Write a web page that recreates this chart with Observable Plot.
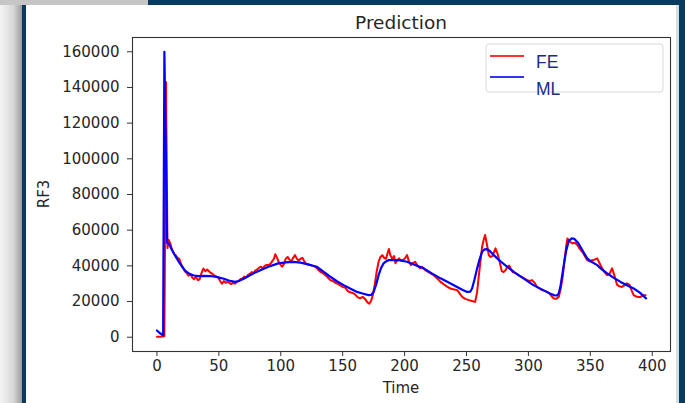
<!DOCTYPE html>
<html>
<head>
<meta charset="utf-8">
<script src="https://cdn.jsdelivr.net/npm/d3@7"></script>
<script src="https://cdn.jsdelivr.net/npm/@observablehq/plot@0.6"></script>
<style>
  html, body { margin: 0; padding: 0; background: #fff; }
  #wrap { position: relative; width: 685px; height: 403px; overflow: hidden; background: #073b5f; }
  #wrap .lstrip { position: absolute; left: 0; top: 0; width: 22px; height: 403px; background: linear-gradient(to right, #f4f4f4, #d8d8d8 60%, #9c9c9c); }
  #wrap .tstrip { position: absolute; left: 0; top: 0; width: 148px; height: 5px; background: #c6c6c6; }
  #wrap .panel { position: absolute; left: 26px; top: 5px; width: 650px; height: 398px; background: #fff; }
  #wrap .rstrip { position: absolute; left: 676px; top: 5px; width: 3px; height: 398px; background: #d6dde2; }
  #chart { position: absolute; left: 0; top: 0; }
</style>
</head>
<body>
<div id="wrap">
  <div class="lstrip"></div>
  <div class="tstrip"></div>
  <div class="panel"></div>
  <div class="rstrip"></div>
  <div id="chart"></div>
</div>
<script>
// ---- data ----
const title = "Prediction";
const xLabel = "Time";
const yLabel = "RF3";
const seriesNames = ["FE", "ML"];
const seriesColors = ["#ff0000", "#0000ff"];
const xTicks = [0, 50, 100, 150, 200, 250, 300, 350, 400];
const yTicks = [0, 20000, 40000, 60000, 80000, 100000, 120000, 140000, 160000];

const feTime = [0,3,6,7.3,8.5,9.5,11,12,13,14,15,16.5,18,19.5,21,22.5,24,25.5,27,28.5,30,31.5,33,34.5,36,37.5,39,40.5,42,43.5,45,46.5,48,49.5,51,52.5,54,55.5,57,58.5,60,61.5,63,64.5,66,67.5,69,70.5,72,73.5,75,76.5,78,79.5,81,82.5,84,85.5,87,88.5,90,91.5,93,94.5,95.5,97,98.5,100,101,102.5,104,105.5,107,108.5,110,111.5,113,114.5,116,117.5,119,120.5,122,124,126,128,130,132,134,136,138,140,142,144,146,148,150,152,154,156,158,160,162,164,166,168,170,171.5,173,174.5,176,177.5,179,180.5,182,183.5,185,186,187.3,188.5,190,191.5,192.6,194,195.5,197,198.5,200,202,203.5,205,206.5,208.5,210.5,212.5,214,216,218,221,224,227,229,231,234,237,240,242.5,244,246.5,249,252,255,257,258.5,260,261.5,262.6,264,265,266.5,268,269.5,271,273.4,275,276.5,278.5,280,281.5,283,284.5,286,287.5,289.5,292,294,296.5,299,301,303,305,307,309,311,313,315,317,319,320.5,322.5,324.5,326,327.5,329,330.5,331.5,333.5,335.5,337.5,339.5,341.5,343.5,345.5,347.5,349.5,351.5,353.5,355.5,357.5,359.5,361.5,363.5,365.5,367.5,369.5,371.5,373.5,375.5,377.5,379.5,381.5,383.5,385,387,389,390.5,392.5,394.5];
const feValue = [300,300,600,143000,50000,54500,52000,49500,48000,46500,46000,44500,44000,41000,39000,37000,36000,34500,35500,33500,32500,34000,32000,32500,36000,38500,37000,38000,37000,36000,35500,34500,34000,33500,31500,30000,31500,30500,31000,30500,29800,30500,30000,31000,31500,32500,33000,34000,33500,35000,35500,36500,36000,37500,38000,39000,39500,38500,40000,40500,40500,41000,42500,44000,46500,44500,42000,40500,39500,41000,44000,45000,43500,42500,44500,46000,44000,43000,44000,44500,42500,41000,40800,40400,40000,39500,38000,36700,36000,34800,33500,32000,31500,30500,30000,29000,28200,27800,26000,25200,24800,24000,22500,21800,22600,21500,19500,18800,20500,24000,30000,37000,42300,45000,46000,44500,44000,46500,49500,46000,44000,45500,41500,43000,44200,43000,43300,44000,46000,42500,40400,41500,42300,40000,38600,39500,38000,37000,35800,34500,32500,31000,30000,28500,27300,26800,26400,25000,22600,21500,20800,20200,19800,25000,34800,44000,50700,55000,57300,52000,46000,45000,45500,49800,47000,43000,37000,36500,37600,39500,40200,38000,36500,36000,34800,34000,33000,32000,31500,32000,30500,28200,27300,26400,26000,25400,24500,22800,21700,21500,22600,27000,33000,42000,51000,55400,53500,52600,53000,51700,49500,47900,45500,43200,42500,43200,43500,44200,41500,38600,36500,34800,35500,38600,34500,29500,28500,28200,29000,30200,29500,26000,23600,22800,22500,22600,23500,23600];

const mlTime = [0,2,4,5,6,8.2,10,12,14,16,18,20,22,24,27,30,34,38,43,48,54,58,63,66,70,73,78,83.5,90,98,104,110,116,122,129,135,140,145,150.8,156,161.6,166,171,173,175,177,179,181,183,185,187,195,202,208,215.5,222,229,236,242.4,247,250.5,253,254.5,256.5,258.6,260.5,262.6,264.5,266.7,269,272,277,282.8,289,296,304,312,318,321,323,324.5,326,327.3,329,330.5,332.6,335,337,340,342,345,347.5,351,355.6,359,363.6,368,374.4,380,385,390,395];
const mlValue = [3800,2500,1500,1000,160000,53000,52000,49000,46500,44200,42000,39800,38000,36600,35200,34600,34300,34400,34300,33800,32800,31800,31000,31500,32800,33900,35800,37600,39500,41400,42000,42200,41800,40800,39500,36500,33900,31500,29200,27300,25400,24500,23600,23700,25400,29500,34800,38800,41400,42500,43200,43200,42300,40600,38600,35800,33000,30500,28200,26500,25400,25500,27300,32500,38600,43500,47900,49200,49400,48200,46000,42800,39500,36200,33000,29200,26400,24300,23500,23400,24500,29000,34800,42500,48500,54000,55400,55200,53000,50700,47000,44200,42300,40400,38200,35800,33700,31000,29000,27300,25000,21800];

// ---- build tables ----
const fe = feTime.map((t, i) => ({t, v: feValue[i]}));
const ml = mlTime.map((t, i) => ({t, v: mlValue[i]}));

const W = 685, H = 403;
const fontMain = "'DejaVu Sans', sans-serif";
const ink = "#262626";

const chart = Plot.plot({
  width: W,
  height: H,
  marginLeft: 132,
  marginRight: 15,
  marginTop: 37,
  marginBottom: 52,
  style: { background: "transparent", fontFamily: fontMain, fontSize: "15px", color: ink, overflow: "visible" },
  x: { domain: [-19.75, 414.75] },
  y: { domain: [-8000, 168000] },
  marks: [
    Plot.line(fe, {x: "t", y: "v", stroke: seriesColors[0], strokeWidth: 2}),
    Plot.line(ml, {x: "t", y: "v", stroke: seriesColors[1], strokeWidth: 2.2}),
    Plot.frame({stroke: "#333", strokeWidth: 1.1}),
    Plot.axisX({ticks: xTicks, tickSize: 5, tickPadding: 4, tickFormat: d => String(d), label: null, stroke: "#333", fontSize: 15}),
    Plot.axisY({ticks: yTicks, tickSize: 5, tickPadding: 8, tickFormat: d => String(d), label: null, stroke: "#333", fontSize: 15})
  ]
});
document.getElementById("chart").appendChild(chart);

// ---- texts and legend ----
const svg = d3.select(chart);
const plotLeft = 132, plotRight = W - 15, plotTop = 37, plotBottom = H - 52;
const cx = (plotLeft + plotRight) / 2;

svg.append("text").attr("x", cx).attr("y", 29).attr("text-anchor", "middle")
  .attr("font-family", fontMain).attr("font-size", 18.5).attr("fill", ink).text(title);
svg.append("text").attr("x", cx).attr("y", 393).attr("text-anchor", "middle")
  .attr("font-family", fontMain).attr("font-size", 15).attr("fill", ink).text(xLabel);
svg.append("text").attr("transform", `translate(49,${(plotTop + plotBottom) / 2}) rotate(-90)`)
  .attr("text-anchor", "middle").attr("font-family", fontMain).attr("font-size", 15).attr("fill", ink).text(yLabel);

const lg = svg.append("g");
lg.append("rect").attr("x", 486).attr("y", 44).attr("width", 177).attr("height", 48).attr("rx", 3)
  .attr("fill", "#fff").attr("fill-opacity", 0.85).attr("stroke", "#d8d8d8").attr("stroke-width", 1);
const rowY = [56, 77];
const textY = [68, 95];
seriesNames.forEach((name, i) => {
  lg.append("line").attr("x1", 490).attr("x2", 524).attr("y1", rowY[i]).attr("y2", rowY[i])
    .attr("stroke", seriesColors[i]).attr("stroke-opacity", 0.8).attr("stroke-width", 2);
  lg.append("text").attr("x", 536).attr("y", textY[i]).attr("text-anchor", "start")
    .attr("font-family", "'Liberation Sans', Arial, sans-serif")
    .attr("font-size", 17.5).attr("fill", "#1a2c7e").text(name);
});
</script>
</body>
</html>
